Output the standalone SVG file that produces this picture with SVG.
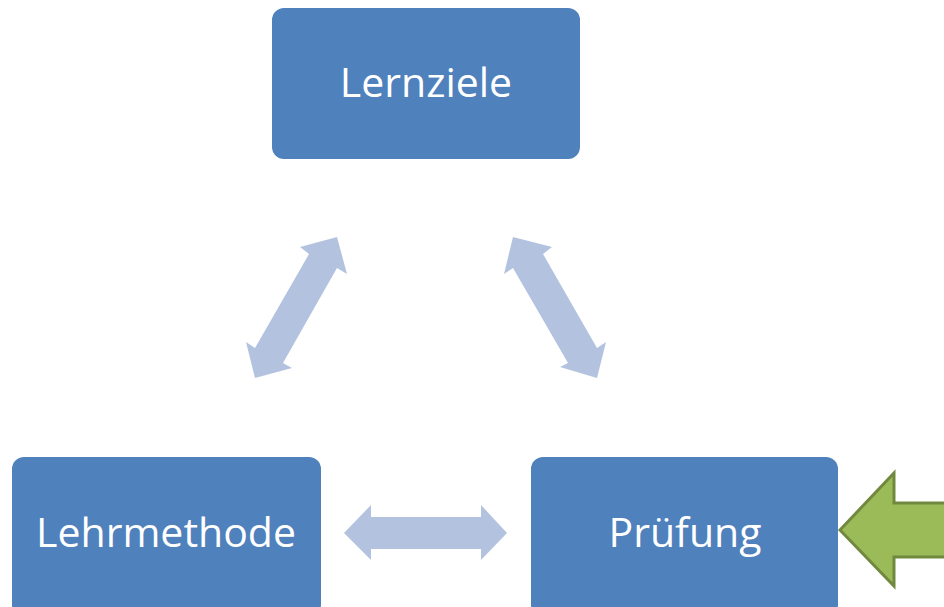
<svg xmlns="http://www.w3.org/2000/svg" width="944" height="607" viewBox="0 0 944 607">
<style>
.box{fill:#4F81BD;}
.lbl{fill:#FFFFFF;font-family:"Open Sans","Noto Sans",sans-serif;font-size:41px;text-anchor:middle;}
.conn{fill:#B3C3DF;}
</style>
<rect width="944" height="607" fill="#FFFFFF"/>
<g id="connectors">
<polygon class="conn" points="337,237 347,274 337,268 283,363 292,368 255,378 246,342 255,348 309,254 300,247"/>
<polygon class="conn" points="513,237 552,247 543,254 597,348 606,342 597,378 560,367 568,363 513,268 504,274"/>
<polygon class="conn" points="344,533 371,505 371,517 481,517 481,505 507,533 481,560 481,549 371,549 371,560"/>
</g>
<g id="lernziele">
<rect class="box" x="272" y="8" width="308" height="151" rx="12"/>
<text class="lbl" x="426" y="97">Lernziele</text>
</g>
<g id="lehrmethode">
<rect class="box" x="12" y="457" width="309" height="160" rx="12"/>
<text class="lbl" x="166" y="547">Lehrmethode</text>
</g>
<g id="pruefung">
<rect class="box" x="531" y="457" width="307" height="160" rx="12"/>
<text class="lbl" x="685" y="547">Prüfung</text>
</g>
<g id="input-arrow">
<polygon points="840,530 894,473 894,503 950,503 950,557 894,557 894,586" fill="#9BBB59" stroke="#71893F" stroke-width="3" stroke-linejoin="miter"/>
</g>
</svg>
